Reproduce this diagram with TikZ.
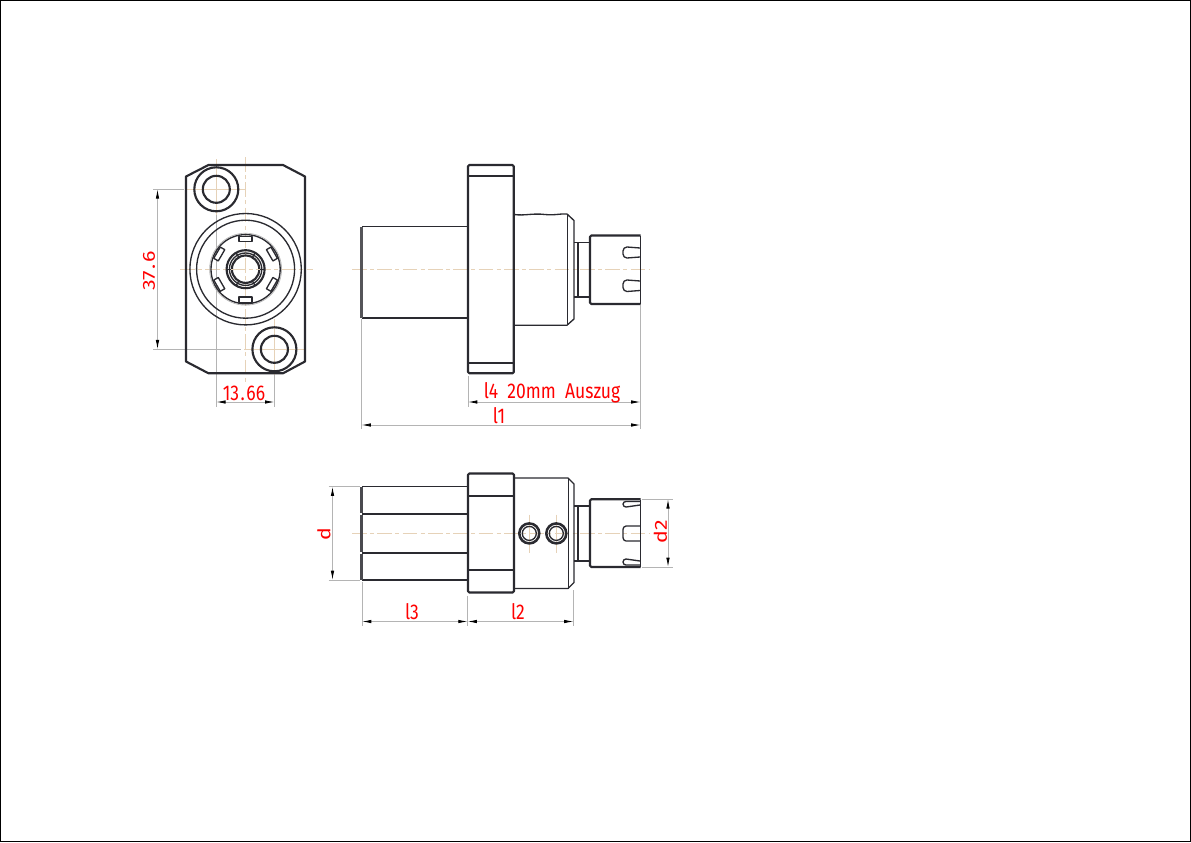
\documentclass[tikz,border=0pt]{standalone}
\usepackage{fontspec}
\setmainfont{Fira Sans}
\usetikzlibrary{arrows.meta,calc}
\definecolor{dimgrey}{HTML}{B4B4B4}
\definecolor{axistan}{HTML}{E6D2B8}
\definecolor{partline}{HTML}{2A2A30}
\tikzset{
    part/.style = {draw=partline, line width=1pt, line join=round},
    thick part/.style = {draw=partline, line width=1.6pt, line join=round},
    thin part/.style = {draw=partline, line width=0.6pt},
    axis/.style = {draw=axistan, line width=0.6pt, dash pattern=on 11pt off 2.5pt on 3pt off 2.5pt},
    cross/.style = {draw=axistan, line width=0.5pt},
    ext/.style = {draw=dimgrey, line width=0.6pt},
    dim/.style = {draw=dimgrey, line width=0.6pt, {Latex[length=7pt,width=2.6pt,black]}-{Latex[length=7pt,width=2.6pt,black]}},
    dimtext/.style = {text=red, font=\fontsize{16}{17}\selectfont, xscale=0.82, inner sep=0pt}
}
\begin{document}
\begin{tikzpicture}[x=0.75pt,y=-0.75pt]
    \draw[black, line width=0.75pt] (0.5,0.5) rectangle (1190.5,841.5);
    \useasboundingbox (0,0) rectangle (1191,842);
    % front view
    \coordinate (hub) at (245.6,269.2);
    \coordinate (holeA) at (216.3,189.3);
    \coordinate (holeB) at (274.4,349.3);
    \draw[axis] (180,269.2) -- (313,269.2);
    \draw[axis] (245.6,157) -- (245.6,382);
    \draw[ext] (153,189.3) -- (184,189.3);
    \draw[ext] (153,349.3) -- (241,349.3);
    \draw[ext] (216.3,189.3) -- (216.3,407);
    \draw[ext] (274.4,375) -- (274.4,407);
    \foreach \h in {holeA,holeB}{
        \draw[cross] ($(\h)+(-30,0)$) -- ($(\h)+(30,0)$);
        \draw[cross] ($(\h)+(0,-30)$) -- ($(\h)+(0,26)$);
        \draw[thick part] (\h) circle (22);
        \draw[thick part] (\h) circle (13.5);
    }
    \draw[thick part] (208.5,165) -- (283,165) -- (305,176.5) -- (305,361.5) -- (283,373.3) -- (208.5,373.3) -- (186,361.5) -- (186,176.5) -- cycle;
    \draw[part] (hub) circle (55.7);
    \draw[part] (hub) circle (49);
    \draw[dimgrey, line width=0.5pt] (hub) circle (36);
    \draw[part] (hub) circle (34.6);
    \foreach \a in {30,90,...,330}{
        \draw[part, fill=white, rotate around={\a-90:(hub)}] ($(hub)+(-6.5,-33)$) rectangle ($(hub)+(6.5,-27.8)$);
    }
    \draw[thick part] (hub) circle (19);
    \draw[part] (hub) circle (16.2);
    \draw[thick part] (hub) circle (13.7);
    \foreach \a in {0,60,...,300}{
        \draw[part] ($(hub)+(\a:13.7)$) -- ($(hub)+(\a:19)$);
    }
    \draw[axis] (231,269.2) -- (260,269.2);
    \draw[dim] (157.5,189.3) -- (157.5,349.3);
    \node[dimtext, rotate=90] (labelpitch) at (149,271) {37\kern1.2pt.\kern1.2pt6};
    \draw[dim] (216.3,402) -- (274.4,402);
    \node[dimtext] (labeloffset) at (244,393) {13\kern1.4pt.\kern1.4pt66};
    % side view
    \draw[axis] (352,269.3) -- (650,269.3);
    \draw[part] (468,226.7) -- (361.5,226.7);
    \draw[part] (361.5,318) -- (468,318);
    \draw[draw=partline!80, line width=1.9pt] (361.5,226.7) -- (361.5,318);
    \draw[thick part, rounded corners=1pt] (468,165) rectangle (513.8,373.3);
    \draw[part] (468,176) -- (513.8,176);
    \draw[part] (468,363) -- (513.8,363);
    \draw[part] (514,214.5) .. controls (525,216) and (532,213) .. (545,214.5) .. controls (555,215.5) and (560,213.5) .. (567,214) -- (574,220.5) -- (574,319) -- (567,325.2) -- (514,325.2);
    \draw[thin part] (567,214) -- (567,325.2);
    \draw[part] (574,242.5) -- (589,242.5);
    \draw[part] (574,297) -- (589,297);
    \draw[thick part] (578,242.5) -- (578,297);
    \draw[part] (640.5,236) -- (640.5,304);
    \draw[thick part, rounded corners=1pt] (640.5,235.5) -- (590,235.5) -- (590,304) -- (640.5,304);
    \draw[part] (640,248) -- (627,247) to[out=180,in=90] (623,251) -- (623,254) to[out=-90,in=180] (627,258) -- (640,257);
    \draw[part] (640,281) -- (627,280) to[out=180,in=90] (623,284) -- (623,287.5) to[out=-90,in=180] (627,291.5) -- (640,290.5);
    % side view dimensions
    \draw[ext] (468,376) -- (468,407);
    \draw[ext] (640.5,305) -- (640.5,429);
    \draw[ext] (361.5,319) -- (361.5,429);
    \draw[dim] (468,402) -- (640.5,402);
    \draw[dim] (361.5,425) -- (640.5,425);
    \node[dimtext] (labelstroke) at (552,393) {l4\ \ 20mm\ \ Auszug};
    \node[dimtext] (labeltotal) at (499,416) {l1};
    % top view
    \draw[axis] (352,533.4) -- (650,533.4);
    \draw[part] (362,486.6) -- (468,486.6);
    \draw[part] (362,514) -- (468,514);
    \draw[part] (362,553) -- (468,553);
    \draw[part] (362,580) -- (468,580);
    \foreach \t/\b in {487/513.3,514.7/552.3,553.7/580}{
        \draw[draw=partline!85, line width=1.9pt] (361.7,\t) -- (361.7,\b);
    }
    \draw[thick part, rounded corners=1pt] (468,473.5) rectangle (514,592.5);
    \draw[part] (468,496) -- (514,496);
    \draw[part] (468,570) -- (514,570);
    \draw[part] (514,478) -- (568,478) -- (574,484) -- (574,582.5) -- (568,588.5) -- (514,588.5);
    \draw[thin part] (568,478) -- (568,588.5);
    \draw[part] (574,506) -- (589,506);
    \draw[part] (574,561) -- (589,561);
    \draw[thick part] (578,506) -- (578,561);
    \draw[part] (640.5,499.5) -- (640.5,567);
    \draw[thick part, rounded corners=1pt] (640.5,499.2) -- (590,499.2) -- (590,567) -- (640.5,567);
    \draw[part] (640,501.5) -- (626,501.5) to[out=180,in=90] (623,504) to[out=-90,in=180] (626,507) -- (640,505);
    \draw[part] (640,526) -- (626,526) to[out=180,in=90] (623,529.5) -- (623,537.5) to[out=-90,in=180] (626,541) -- (640,541);
    \draw[part] (640,565) -- (626,565) to[out=180,in=-90] (623,562) to[out=90,in=180] (626,559) -- (640,561);
    \foreach \s in {529.3,556.3}{
        \draw[cross] (\s,514.5) -- (\s,552.5);
        \draw[draw=partline, line width=1.9pt] (\s,533.4) circle (10);
        \draw[part] (\s,533.4) circle (7);
    }
    % top view dimensions
    \draw[ext] (328.5,486.6) -- (360,486.6);
    \draw[ext] (328.5,580) -- (360,580);
    \draw[ext] (362,582) -- (362,626);
    \draw[ext] (467.6,596) -- (467.6,626);
    \draw[ext] (573.5,590) -- (573.5,626);
    \draw[ext] (642,499.2) -- (673,499.2);
    \draw[ext] (642,567) -- (673,567);
    \draw[dim] (332.5,486.6) -- (332.5,580);
    \draw[dim] (362,621.5) -- (467.6,621.5);
    \draw[dim] (467.6,621.5) -- (573.5,621.5);
    \draw[dim] (668,499.2) -- (668,567);
    \node[dimtext, rotate=90] (labelshank) at (324,534) {d};
    \node[dimtext, rotate=90] (labelcollet) at (660.5,532) {d2};
    \node[dimtext] (labelshanklen) at (412,612) {l3};
    \node[dimtext] (labelbodylen) at (518,612) {l2};
\end{tikzpicture}
\end{document}
